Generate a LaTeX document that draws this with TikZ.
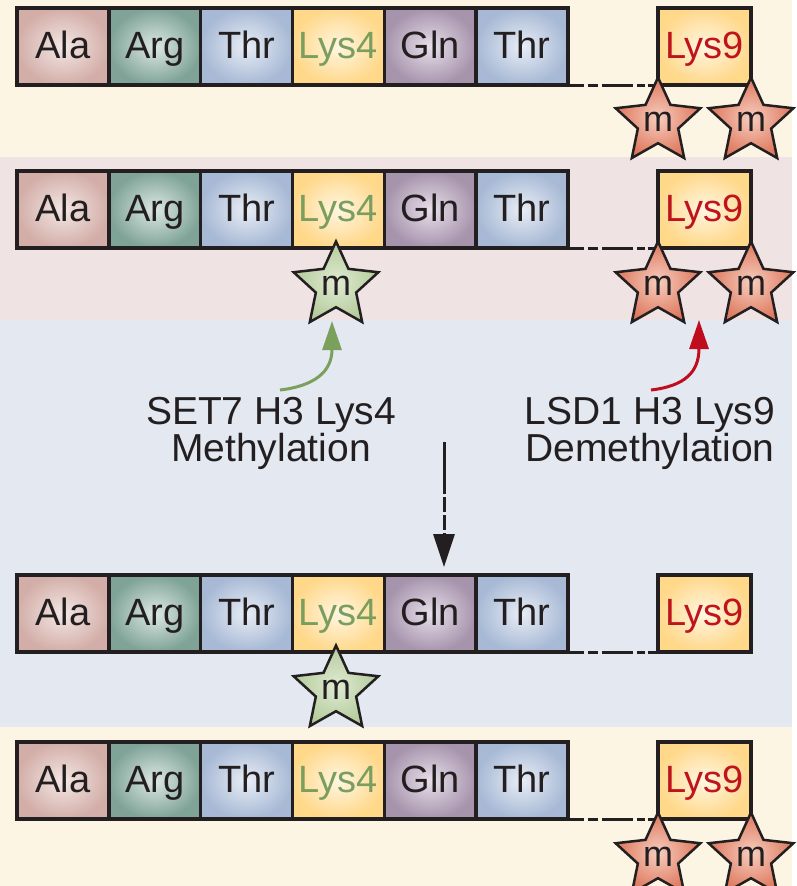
\documentclass[tikz,border=0pt]{standalone}
\usepackage{fontspec}
\setmainfont{Liberation Sans}
\usetikzlibrary{shapes.geometric,arrows.meta,shadings}
\definecolor{ink}{HTML}{231F20}
\definecolor{bgcream}{HTML}{FDF5E3}
\definecolor{bgpink}{HTML}{EFE4E3}
\definecolor{bgblue}{HTML}{E3E8F1}
\definecolor{alaIn}{HTML}{F3E7E4}
\definecolor{alaOut}{HTML}{D3AEA8}
\definecolor{argIn}{HTML}{DCE8E3}
\definecolor{argOut}{HTML}{7FA397}
\definecolor{thrIn}{HTML}{E8EDF5}
\definecolor{thrOut}{HTML}{A7B9D5}
\definecolor{lysIn}{HTML}{FFF6E2}
\definecolor{lysOut}{HTML}{FFD88A}
\definecolor{glnIn}{HTML}{E7DFEA}
\definecolor{glnOut}{HTML}{A693AC}
\definecolor{lysgreen}{HTML}{7A9E5E}
\definecolor{lysred}{HTML}{C0141C}
\definecolor{rstarIn}{HTML}{F6CDBE}
\definecolor{rstarOut}{HTML}{DE775C}
\definecolor{gstarIn}{HTML}{E0EAD3}
\definecolor{gstarOut}{HTML}{B3CB9A}
\definecolor{arrgreen}{HTML}{7BA05B}
\definecolor{arrred}{HTML}{C00D1E}
\tikzset{
  aa/.style={draw=ink, line width=3.5pt, minimum width=91.83pt, minimum height=77pt,
    inner sep=0pt, shading=radial, text height=27.2pt, text depth=4pt,
    font=\fontsize{38}{40}\selectfont, text=ink},
  ala/.style={aa, inner color=alaIn, outer color=alaOut},
  arg/.style={aa, inner color=argIn, outer color=argOut},
  thr/.style={aa, inner color=thrIn, outer color=thrOut},
  lys/.style={aa, inner color=lysIn, outer color=lysOut},
  gln/.style={aa, inner color=glnIn, outer color=glnOut},
  mstar/.style={star, star points=5, star point ratio=2.1, minimum size=80pt,
    inner sep=0pt, draw=ink, line width=2.5pt, shading=radial,
    font=\fontsize{36}{36}\selectfont, text=ink},
  rstar/.style={mstar, inner color=rstarIn, outer color=rstarOut},
  gstar/.style={mstar, inner color=gstarIn, outer color=gstarOut},
  dlink/.style={draw=ink, line width=3pt,
    dash pattern=on 14pt off 4pt on 10pt off 4pt on 31pt off 4pt on 8pt off 3pt on 12pt},
  curvearrow/.style={line width=3pt, -{Triangle[length=29pt,width=19pt]}},
  lbl/.style={align=center, inner sep=0pt, font=\fontsize{39}{37}\selectfont, text=ink},
}
\begin{document}
\begin{tikzpicture}[x=1pt,y=-1pt]
\useasboundingbox (0,0) rectangle (796,886);
\fill[white] (0,0) rectangle (796,886);
\fill[bgcream] (0,0) rectangle (792,157);
\fill[bgpink] (0,157) rectangle (792,320);
\fill[bgblue] (0,320) rectangle (792,727);
\fill[bgcream] (0,727) rectangle (792,886);

\foreach \rw/\ty in {1/8,2/171,3/575,4/742}{
  \pgfmathsetmacro\cy{\ty+38.5}
  \node[ala] (ala\rw) at (62.92,\cy) {Ala};
  \node[arg] (arg\rw) at (154.75,\cy) {Arg};
  \node[thr] (thra\rw) at (246.58,\cy) {Thr};
  \node[lys, text=lysgreen] (lysf\rw) at (338.42,\cy) {Lys4};
  \node[gln] (gln\rw) at (430.25,\cy) {Gln};
  \node[thr] (thrb\rw) at (522.08,\cy) {Thr};
  \node[lys, text=lysred, minimum width=93pt] (lysn\rw) at (704.5,\cy) {Lys9};
  \draw[dlink] ([yshift=1.5pt]thrb\rw.south east) -- ([yshift=1.5pt]lysn\rw.south west);
}

% stars
\node[rstar] (s1a) at (658,122) {m};
\node[rstar] (s1b) at (751,122) {m};
\node[gstar] (s2g) at (336,286) {m};
\node[rstar] (s2a) at (658,286) {m};
\node[rstar] (s2b) at (751,286) {m};
\node[gstar] (s3g) at (336,690) {m};
\node[rstar] (s4a) at (658,857) {m};
\node[rstar] (s4b) at (751,857) {m};

% labels
\node[lbl] (setlbl) at (271,433) {SET7 H3 Lys4\\Methylation};
\node[lbl] (lsdlbl) at (650,433) {LSD1 H3 Lys9\\Demethylation};

% curved arrows
\coordinate (g0) at (280,390);
\coordinate (g1) at (332,321);
\draw[curvearrow, draw=arrgreen] (g0) .. controls (314,386) and (332,372) .. (g1);
\coordinate (r0) at (651,390);
\coordinate (r1) at (699,320);
\draw[curvearrow, draw=arrred] (r0) .. controls (685,386) and (699,372) .. (r1);

% dashed arrow
\coordinate (d0) at (444,442);
\coordinate (d1) at (444,567);
\draw[draw=ink, line width=3pt, dash pattern=on 52pt off 3pt on 15pt off 3pt on 15pt off 3pt,
  -{Triangle[length=33pt,width=21pt]}] (d0) -- (d1);
\end{tikzpicture}
\end{document}
